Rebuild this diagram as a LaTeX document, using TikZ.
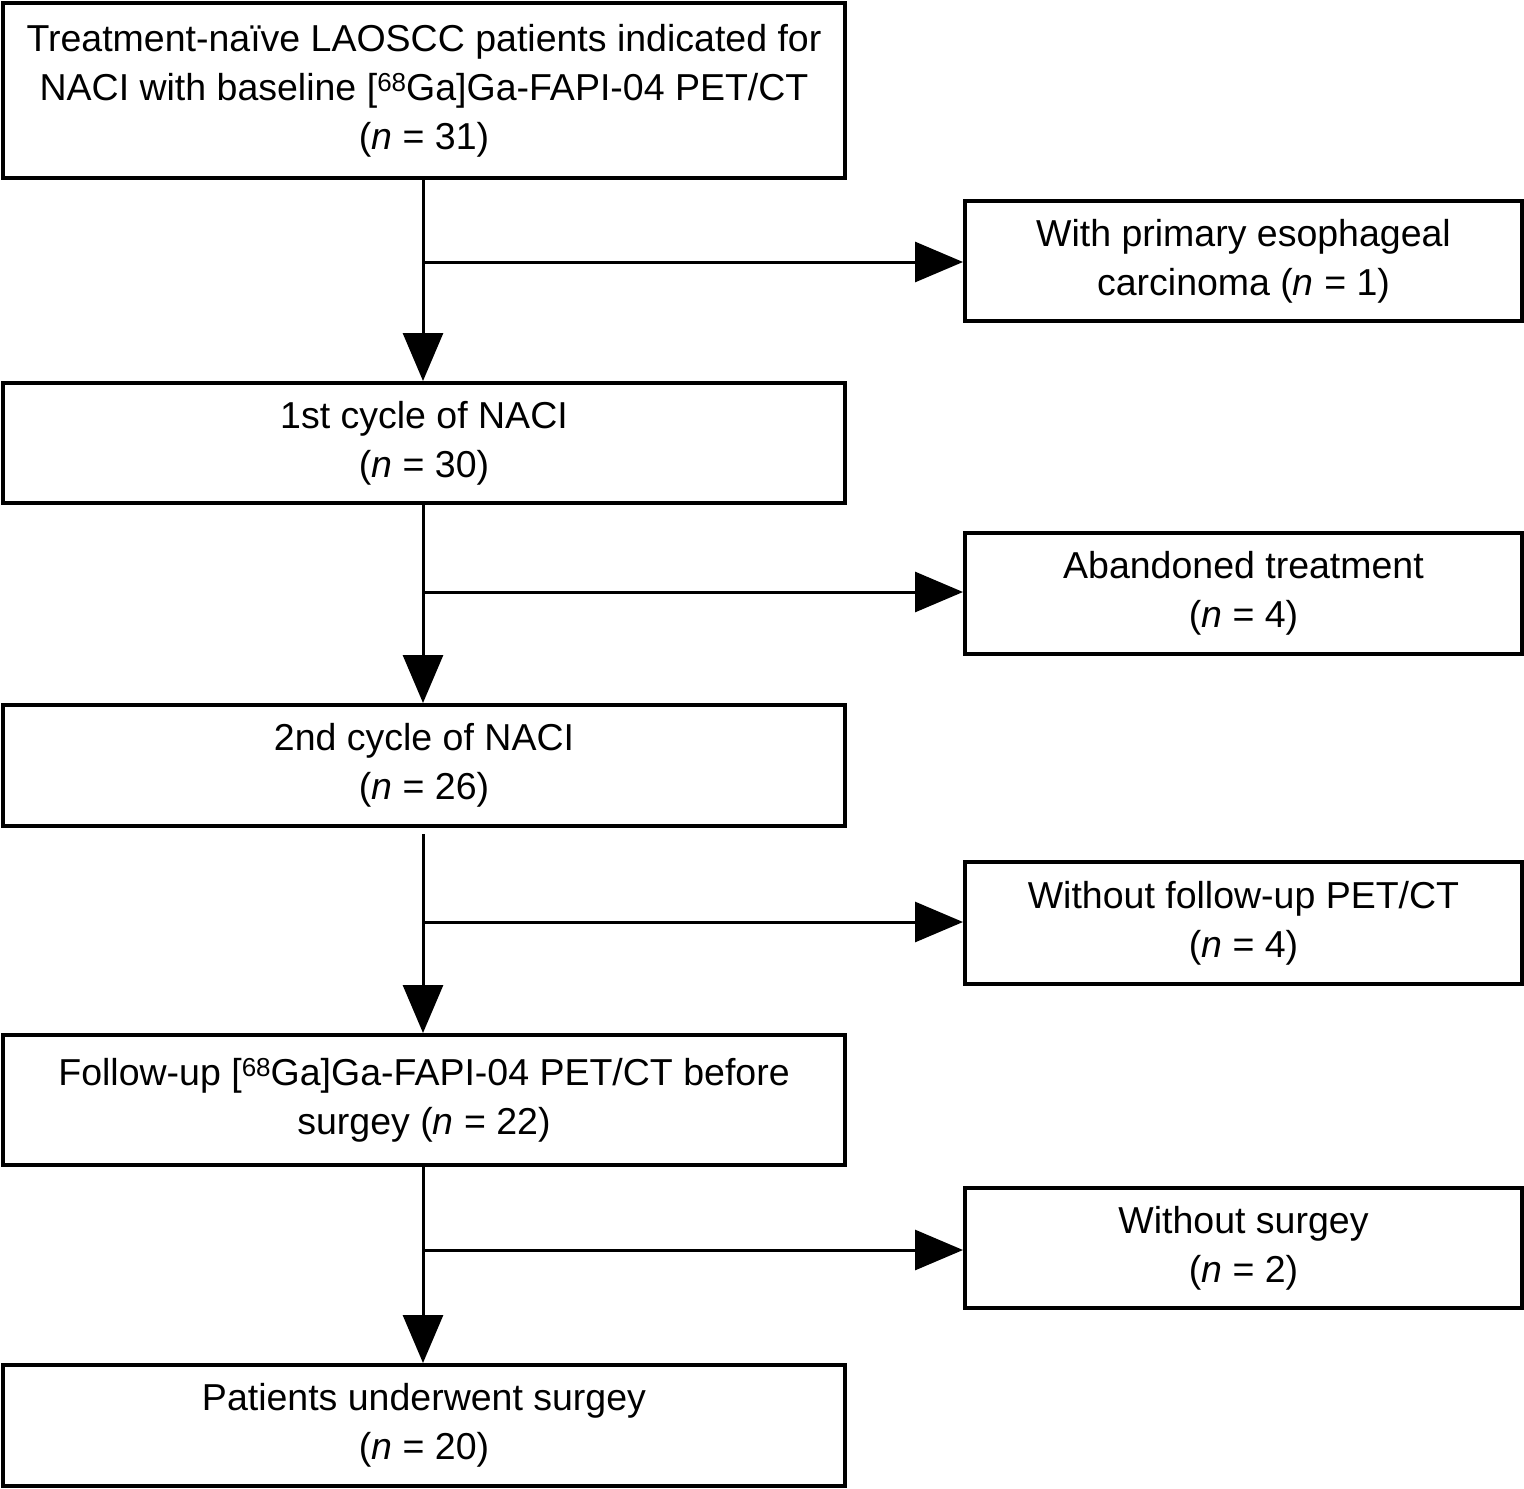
\documentclass[tikz,border=0pt]{standalone}
\usepackage{fontspec}
\setmainfont{Liberation Sans}
\usetikzlibrary{arrows.meta}
\begin{document}
\begin{tikzpicture}[x=1pt,y=-1pt,
  box/.style={draw,line width=4pt,align=center,inner sep=0pt,font=\fontsize{37.5}{49}\selectfont},
  arr/.style={line width=3pt,-{Triangle[width=40pt,length=48pt]}}]
\useasboundingbox (0,0) rectangle (1524,1489);
\node[box,minimum width=842pt,minimum height=175pt] (b1) at (424,90.5) {Treatment-naïve LAOSCC patients indicated for\\NACI with baseline [\raisebox{0.45ex}{\fontsize{26}{26}\selectfont 68}Ga]Ga-FAPI-04 PET/CT\\(\textit{n} = 31)};
\node[box,minimum width=842pt,minimum height=120pt] (b2) at (424,443) {1st cycle of NACI\\(\textit{n} = 30)};
\node[box,minimum width=842pt,minimum height=121pt] (b3) at (424,765.5) {2nd cycle of NACI\\(\textit{n} = 26)};
\node[box,minimum width=842pt,minimum height=130pt] (b4) at (424,1100) {Follow-up [\raisebox{0.45ex}{\fontsize{26}{26}\selectfont 68}Ga]Ga-FAPI-04 PET/CT before\\surgey (\textit{n} = 22)};
\node[box,minimum width=842pt,minimum height=121pt] (b5) at (424,1425.5) {Patients underwent surgey\\(\textit{n} = 20)};
\node[box,minimum width=557pt,minimum height=120pt] (s1) at (1243.5,261) {With primary esophageal\\carcinoma (\textit{n} = 1)};
\node[box,minimum width=557pt,minimum height=121pt] (s2) at (1243.5,593.5) {Abandoned treatment\\(\textit{n} = 4)};
\node[box,minimum width=557pt,minimum height=122pt] (s3) at (1243.5,923) {Without follow-up PET/CT\\(\textit{n} = 4)};
\node[box,minimum width=557pt,minimum height=120pt] (s4) at (1243.5,1248) {Without surgey\\(\textit{n} = 2)};
\coordinate (j1) at (423,262);
\coordinate (j2) at (423,592);
\coordinate (j3) at (423,922);
\coordinate (j4) at (423,1250);
\draw[arr] (b1.south -| j1) -- (b2.north -| j1);
\draw[arr] (b2.south -| j2) -- (b3.north -| j2);
\draw[arr] (b3.south -| j3) ++(0,6) -- (b4.north -| j3);
\draw[arr] (b4.south -| j4) -- (b5.north -| j4);
\draw[arr] (j1) -- (s1.west |- j1);
\draw[arr] (j2) -- (s2.west |- j2);
\draw[arr] (j3) -- (s3.west |- j3);
\draw[arr] (j4) -- (s4.west |- j4);
\end{tikzpicture}
\end{document}
